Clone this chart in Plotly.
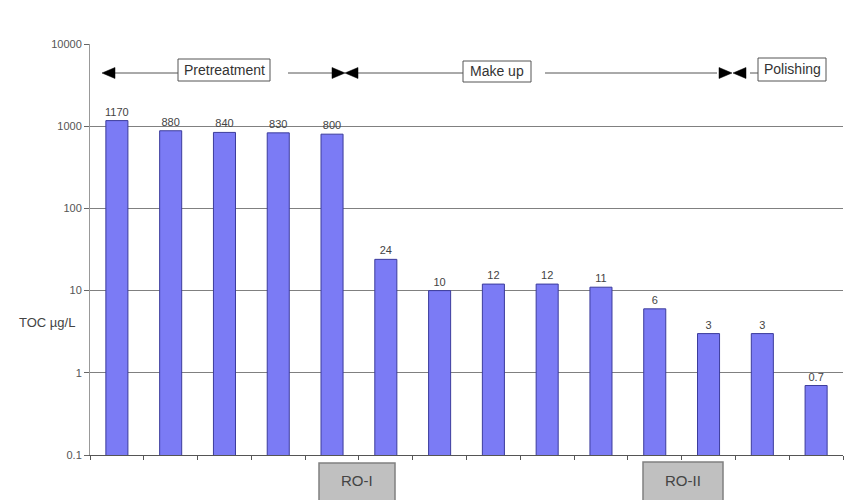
import plotly.graph_objects as go

# ---- data ----
samples = [str(i) for i in range(1, 15)]
toc_values = [1170, 880, 840, 830, 800, 24, 10, 12, 12, 11, 6, 3, 3, 0.7]
value_labels = ["1170", "880", "840", "830", "800", "24", "10", "12", "12", "11", "6", "3", "3", "0.7"]
y_tick_vals = [0.1, 1, 10, 100, 1000, 10000]
y_tick_text = ["0.1", "1", "10", "100", "1000", "10000"]
stage_names = ["Pretreatment", "Make up", "Polishing"]
ro_names = ["RO-I", "RO-II"]

OFF = 8  # page body margin
W, H = 857 - OFF, 500 - OFF
# plot area in page pixel coordinates
L, R, T, B = 90, 843, 44, 455
FONT = "Liberation Sans, Arial, sans-serif"


def xp(px):
    return (px - L) / (R - L)


def yp(py):
    return (B - py) / (B - T)


fig = go.Figure()
fig.add_trace(go.Bar(
    x=samples, y=toc_values, text=value_labels,
    textposition="outside", cliponaxis=False, constraintext="none",
    textfont=dict(size=11, color="#444444", family=FONT),
    marker=dict(color="#7b7bf5", line=dict(color="#3c3c9c", width=1)),
    width=0.41, showlegend=False,
))

shapes = []
ay = 73  # pixel row of the arrow line
line_segs = [(113, 178), (288, 332), (358, 463), (545, 717), (750, 758)]
for a, b in line_segs:
    shapes.append(dict(type="line", xref="paper", yref="paper",
                       x0=xp(a), x1=xp(b), y0=yp(ay), y1=yp(ay),
                       line=dict(color="#555555", width=1)))


def tri(tip, direction):
    base = tip - direction * 13
    return dict(type="path", xref="paper", yref="paper",
                path=f"M {xp(tip)} {yp(ay)} L {xp(base)} {yp(ay - 5.5)} L {xp(base)} {yp(ay + 5.5)} Z",
                fillcolor="#000000", line=dict(color="#000000", width=0.5))


shapes += [tri(102, -1), tri(345, 1), tri(345, -1), tri(732, 1), tri(733, -1)]

stage_boxes = [(178, 270, 59, 81), (463, 531, 61, 82), (758, 826, 58, 81)]
annotations = []
for name, (x0, x1, y0, y1) in zip(stage_names, stage_boxes):
    shapes.append(dict(type="rect", xref="paper", yref="paper",
                       x0=xp(x0), x1=xp(x1), y0=yp(y1), y1=yp(y0),
                       fillcolor="white", line=dict(color="#555555", width=1)))
    annotations.append(dict(xref="paper", yref="paper", x=xp((x0 + x1) / 2), y=yp((y0 + y1) / 2),
                            xanchor="center", yanchor="middle",
                            text=name, showarrow=False,
                            font=dict(size=14, color="#333333", family=FONT)))

ro_boxes = [(319, 395, 463, 505), (643, 723, 462, 505)]
for name, (x0, x1, y0, y1) in zip(ro_names, ro_boxes):
    shapes.append(dict(type="rect", xref="paper", yref="paper",
                       x0=xp(x0), x1=xp(x1), y0=yp(y1), y1=yp(y0),
                       fillcolor="#c0c0c0", line=dict(color="#808080", width=1.5)))
    annotations.append(dict(xref="paper", yref="paper", x=xp((x0 + x1) / 2), y=yp(481),
                            xanchor="center", yanchor="middle",
                            text=name, showarrow=False,
                            font=dict(size=15, color="#444444", family=FONT)))

annotations.append(dict(xref="paper", yref="paper", x=xp(47), y=yp(322),
                        xanchor="center", yanchor="middle",
                        text="TOC µg/L", showarrow=False,
                        font=dict(size=13, color="#444444", family=FONT)))

fig.update_layout(
    width=W, height=H,
    margin=dict(l=L - OFF, r=W - (R - OFF), t=T - OFF, b=H - (B - OFF), pad=0),
    paper_bgcolor="white", plot_bgcolor="white",
    font=dict(family=FONT),
    shapes=shapes, annotations=annotations,
    xaxis=dict(showticklabels=False, ticks="outside", ticklen=4, tickson="boundaries",
               tickcolor="#555555", showline=True, linecolor="#555555", linewidth=1,
               showgrid=False, range=[-0.5, 13.5]),
    yaxis=dict(type="log", range=[-1, 4], tickvals=y_tick_vals, ticktext=y_tick_text,
               ticks="outside", ticklen=5, tickcolor="#666666",
               tickfont=dict(size=11, color="#555555", family=FONT),
               showline=True, linecolor="#999999", linewidth=1,
               showgrid=True, gridcolor="#808080", gridwidth=1, zeroline=False),
    bargap=0.59,
)

fig.write_html("out.html")
